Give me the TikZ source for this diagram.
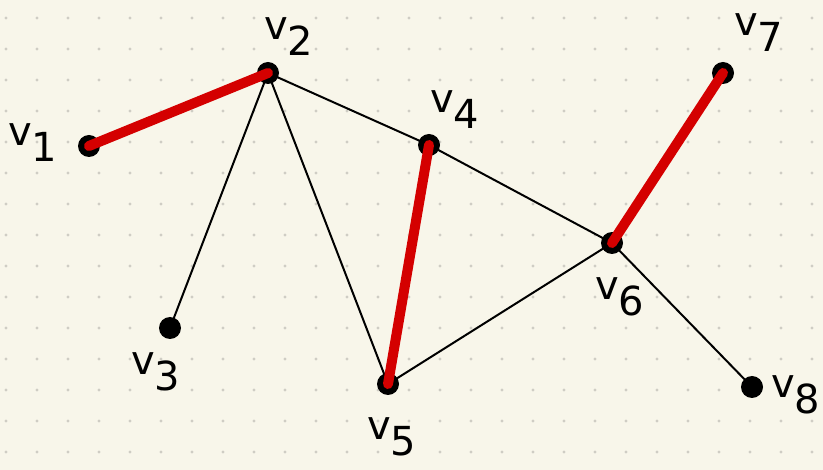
\documentclass[tikz,border=0pt]{standalone}
\usepackage{fontspec}
\setsansfont{DejaVu Sans}
\usetikzlibrary{positioning}
\definecolor{grPaper}{HTML}{F8F6EA}
\definecolor{grDot}{HTML}{CFCDC4}
\definecolor{grInk}{HTML}{000000}
\definecolor{grMatch}{HTML}{D40000}
\tikzset{
  gr diagram/.style={x=1pt, y=-1pt, line cap=round, line join=round},
  gr vertex/.style={circle, fill=grInk, minimum size=22pt, inner sep=0pt},
  gr edge/.style={draw=grInk, line width=2pt},
  gr match/.style={draw=grMatch, line width=10pt},
  gr label/.style={font=\sffamily\fontsize{40}{40}\selectfont, inner sep=0pt,
    anchor=base west}
}
\newcommand{\vname}[1]{v\raisebox{-0.4em}{#1}}

\begin{document}
\begin{tikzpicture}[gr diagram]
\useasboundingbox[fill=grPaper] (0,0) rectangle (823,470);
\foreach \x in {0,...,26}
  \foreach \y in {0,...,14}
    \fill[grDot] (6+31*\x,18+31*\y) circle (1.6);
% vertices
\node[gr vertex] (v1) at (89,146) {};
\node[gr vertex] (v2) at (268,73) {};
\node[gr vertex] (v3) at (170,328) {};
\node[gr vertex] (v4) at (429,145) {};
\node[gr vertex] (v5) at (388,384) {};
\node[gr vertex] (v6) at (612,243) {};
\node[gr vertex] (v7) at (723,73) {};
\node[gr vertex] (v8) at (752,387) {};
% plain edges
\foreach \a/\b in {v2/v3,v2/v5,v2/v4,v4/v6,v5/v6,v6/v8}
  \draw[gr edge] (\a.center) -- (\b.center);
% matching
\foreach \a/\b in {v1/v2,v4/v5,v6/v7}
  \draw[gr match] (\a.center) -- (\b.center);
% labels
\node[gr label] (l1) at (8,146) {\vname{1}};
\node[gr label] (l2) at (264,40) {\vname{2}};
\node[gr label] (l3) at (131,375) {\vname{3}};
\node[gr label] (l4) at (430,113) {\vname{4}};
\node[gr label] (l5) at (367,440) {\vname{5}};
\node[gr label] (l6) at (595,300) {\vname{6}};
\node[gr label] (l7) at (734,36) {\vname{7}};
\node[gr label] (l8) at (771,398) {\vname{8}};
\end{tikzpicture}
\end{document}
